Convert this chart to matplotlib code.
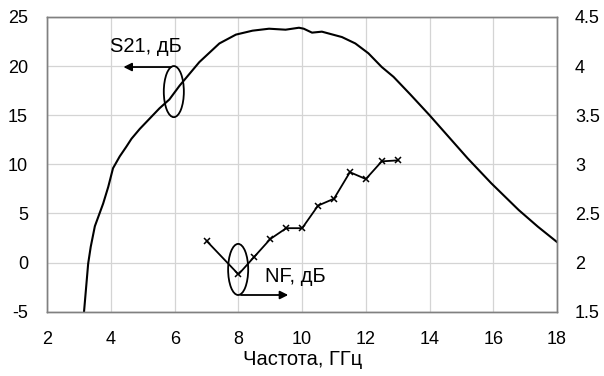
import matplotlib
matplotlib.use("Agg")
import matplotlib.pyplot as plt
from matplotlib.patches import Ellipse

plt.rcParams['font.family'] = ['Liberation Sans', 'DejaVu Sans']
plt.rcParams['axes.unicode_minus'] = False

# S21 (left axis, dB)
s21_freq = [3.15, 3.28, 3.36, 3.49, 3.75, 3.91, 4.06, 4.27, 4.48, 4.64, 4.9, 5.21, 5.52, 5.83,
            6.15, 6.77, 7.4, 7.92, 8.44, 8.96, 9.48, 9.9, 10.05, 10.31, 10.62, 11.25,
            11.67, 12.08, 12.5, 12.87, 13.4, 14.0, 14.6, 15.2, 15.94, 16.8, 17.4, 18.0]
s21_db = [-5.0, -0.1, 1.6, 3.7, 6.0, 7.7, 9.6, 10.8, 11.8, 12.6, 13.6, 14.65, 15.7, 16.6,
          18.0, 20.4, 22.3, 23.2, 23.6, 23.8, 23.7, 23.9, 23.8, 23.4, 23.5, 22.95,
          22.3, 21.3, 19.9, 18.9, 17.1, 15.0, 12.8, 10.6, 8.07, 5.35, 3.66, 2.1]

# NF (right axis, dB)
nf_freq = [7.0, 8.0, 8.5, 9.0, 9.5, 10.0, 10.5, 11.0, 11.5, 12.0, 12.5, 13.0]
nf_db = [2.22, 1.88, 2.06, 2.24, 2.35, 2.35, 2.58, 2.65, 2.92, 2.85, 3.03, 3.04]

x_ticks = [2, 4, 6, 8, 10, 12, 14, 16, 18]
left_ticks = [-5, 0, 5, 10, 15, 20, 25]
right_ticks = [1.5, 2, 2.5, 3, 3.5, 4, 4.5]
right_labels = ['1.5', '2', '2.5', '3', '3.5', '4', '4.5']

fig = plt.figure(figsize=(6.04, 3.76), dpi=100)
ax = fig.add_axes([0.0785, 0.171, 0.8435, 0.784])
ax2 = ax.twinx()

fs = 13
fl = 14.5
ax.plot(s21_freq, s21_db, color='black', lw=1.5)
ax.set_xlim(2, 18)
ax.set_ylim(-5, 25)
ax.set_xticks(x_ticks)
ax.set_yticks(left_ticks)
ax.grid(True, color='#d4d4d4', lw=0.9)
ax.set_axisbelow(True)
ax.tick_params(length=0, labelsize=fs, pad=14)
ax.tick_params(axis='x', pad=14)
ax.set_xlabel('Частота, ГГц', fontsize=fl, labelpad=1)

ax2.plot(nf_freq, nf_db, color='black', lw=1.3, marker='x', ms=5, mew=1.1)
ax2.set_ylim(1.5, 4.5)
ax2.set_yticks(right_ticks)
ax2.set_yticklabels(right_labels)
ax2.tick_params(length=0, labelsize=fs, pad=13)

for a in (ax, ax2):
    for s in a.spines.values():
        s.set_color('#808080')
        s.set_linewidth(1.0)

# Annotations: S21
ax.add_patch(Ellipse((5.97, 17.4), 0.63, 5.2, fill=False, color='black', lw=1.3))
ax.annotate('', xy=(4.3, 19.9), xytext=(5.97, 19.9),
            arrowprops=dict(arrowstyle='-|>', color='black', lw=1.3, mutation_scale=12))
ax.text(5.08, 22.0, 'S21, дБ', fontsize=fl, ha='center', va='center')

# Annotations: NF
ax2.add_patch(Ellipse((7.99, 1.93), 0.63, 0.52, fill=False, color='black', lw=1.3))
ax2.annotate('', xy=(9.65, 1.67), xytext=(7.99, 1.67),
             arrowprops=dict(arrowstyle='-|>', color='black', lw=1.3, mutation_scale=12))
ax2.text(8.83, 1.86, 'NF, дБ', fontsize=fl, ha='left', va='center')

fig.savefig('out.png', dpi=100)
